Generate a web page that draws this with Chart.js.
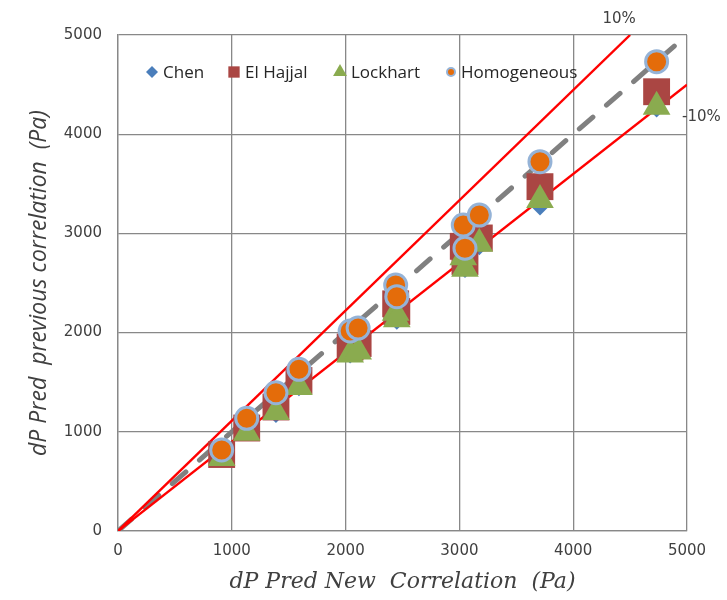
<!DOCTYPE html>
<html>
<head>
<meta charset="utf-8">
<script src="https://cdn.jsdelivr.net/npm/chart.js@4.4.0/dist/chart.umd.min.js"></script>
<style>
html, body { margin: 0; padding: 0; background: #fff; }
#wrap { width: 727px; height: 600px; }
</style>
</head>
<body>
<div id="wrap"><canvas id="parity-chart" width="727" height="600"></canvas></div>
<script>
// dP predicted by the new correlation (x) and by the previous correlations (y)
var newCorr     = [911, 1131, 1388, 1590, 2040, 2110, 2440, 2450, 3034, 3049, 3175, 3708, 4733];
var chen        = [740, 1000, 1170, 1440, 1770, 1800, 2170, 2110, 2740, 2630, 2860, 3260, 4250];
var elHajjal    = [771, 1038, 1250, 1517, 1855, 1890, 2290, 2213, 2870, 2717, 2954, 3471, 4428];
var lockhart    = [736, 991, 1200, 1452, 1780, 1810, 2200, 2134, 2760, 2644, 2896, 3337, 4277];
var homogeneous = [817, 1136, 1394, 1630, 2016, 2046, 2480, 2362, 3085, 2850, 3185, 3723, 4731];

// reference lines: +10%, -10% and the 1:1 line
var plusTenX  = [0, 4500];
var plusTenY  = [0, 5000];
var minusTenX = [0, 5000];
var minusTenY = [0, 4500];
var parityX   = [0, 5000];
var parityY   = [0, 5000];

var axisTicks = [0, 1000, 2000, 3000, 4000, 5000];

function toPoints(xs, ys) {
    return xs.map(function (x, i) { return { x: x, y: ys[i] }; });
}

var TEXT_DARK = "#404040";
var GRID = "#888888";

// legend drawn inside the plot, like the original
var inlineLegend = {
    id: "inlineLegend",
    afterDatasetsDraw: function (chart) {
        var ctx = chart.ctx;
        var area = chart.chartArea;
        var y = area.top + 37;
        var items = [
            { ds: 3, mx: 34, tx: 45 },
            { ds: 2, mx: 116, tx: 127 },
            { ds: 1, mx: 222, tx: 233 },
            { ds: 0, mx: 333, tx: 343 },
        ];
        ctx.save();
        items.forEach(function (it) {
            var ds = chart.data.datasets[it.ds];
            ctx.fillStyle = ds.backgroundColor;
            ctx.strokeStyle = ds.borderColor;
            ctx.lineWidth = ds.legendBorder;
            Chart.helpers.drawPoint(ctx, {
                pointStyle: ds.pointStyle,
                radius: ds.legendRadius,
                borderWidth: ds.legendBorder,
                rotation: 0,
            }, area.left + it.mx, y);
            ctx.fillStyle = "#262626";
            ctx.font = '17px "Open Sans"';
            ctx.textBaseline = "middle";
            ctx.textAlign = "left";
            ctx.fillText(ds.label, area.left + it.tx, y + 1);
        });

        // labels of the +/-10% lines
        var xs = chart.scales.x, ys = chart.scales.y;
        ctx.fillStyle = TEXT_DARK;
        ctx.font = '15px "DejaVu Sans"';
        ctx.textAlign = "center";
        ctx.fillText("10%", xs.getPixelForValue(plusTenX[1]) - 11, area.top - 16);
        ctx.textAlign = "left";
        ctx.fillText("-10%", area.right - 5, ys.getPixelForValue(4170));
        ctx.restore();
    },
};

function plainTick(value) {
    return String(value);
}

var ctx = document.getElementById("parity-chart").getContext("2d");

new Chart(ctx, {
    type: "scatter",
    data: {
        datasets: [
            {
                label: "Homogeneous",
                data: toPoints(newCorr, homogeneous),
                pointStyle: "circle",
                pointRadius: 11,
                pointBorderWidth: 3,
                backgroundColor: "#e46c0a",
                borderColor: "#95b3d7",
                legendRadius: 4,
                legendBorder: 2,
                order: 0,
            },
            {
                label: "Lockhart",
                data: toPoints(newCorr, lockhart),
                pointStyle: "triangle",
                pointRadius: 16,
                pointBorderWidth: 0,
                backgroundColor: "#8aab4f",
                borderColor: "#8aab4f",
                legendRadius: 8,
                legendBorder: 0,
                order: 1,
            },
            {
                label: "El Hajjal",
                data: toPoints(newCorr, elHajjal),
                pointStyle: "rect",
                pointRadius: 19,
                pointBorderWidth: 0,
                backgroundColor: "#aa4643",
                borderColor: "#aa4643",
                legendRadius: 8,
                legendBorder: 0,
                order: 2,
            },
            {
                label: "Chen",
                data: toPoints(newCorr, chen),
                pointStyle: "rectRot",
                pointRadius: 8,
                pointBorderWidth: 0,
                backgroundColor: "#4a7ebb",
                borderColor: "#4a7ebb",
                legendRadius: 6,
                legendBorder: 0,
                order: 3,
            },
            {
                label: "+10%",
                data: toPoints(plusTenX, plusTenY),
                showLine: true,
                pointRadius: 0,
                borderColor: "#ff0000",
                borderWidth: 2.4,
                order: 4,
            },
            {
                label: "-10%",
                data: toPoints(minusTenX, minusTenY),
                showLine: true,
                pointRadius: 0,
                borderColor: "#ff0000",
                borderWidth: 2.4,
                order: 5,
            },
            {
                label: "1:1",
                data: toPoints(parityX, parityY),
                showLine: true,
                pointRadius: 0,
                borderColor: "#808080",
                borderWidth: 5,
                borderDash: [18, 18],
                borderCapStyle: "round",
                order: 6,
            },
        ],
    },
    options: {
        responsive: false,
        animation: false,
        devicePixelRatio: 1,
        layout: { padding: { top: 35, right: 40, left: 0, bottom: 0 } },
        plugins: {
            legend: { display: false },
            tooltip: { enabled: false },
        },
        scales: {
            x: {
                type: "linear",
                min: axisTicks[0],
                max: axisTicks[axisTicks.length - 1],
                afterBuildTicks: function (scale) {
                    scale.ticks = axisTicks.map(function (v) { return { value: v }; });
                },
                afterFit: function (scale) { scale.height = 69; },
                grid: { color: GRID, lineWidth: 1.3, drawTicks: false },
                border: { color: GRID, width: 1.3 },
                ticks: {
                    padding: 11,
                    color: TEXT_DARK,
                    font: { family: "DejaVu Sans", size: 15 },
                    maxRotation: 0,
                    callback: plainTick,
                },
                title: {
                    display: true,
                    text: "dP Pred New  Correlation  (Pa)",
                    color: TEXT_DARK,
                    font: { family: "DejaVu Serif", size: 22, style: "italic" },
                    padding: { top: 0, bottom: 5 },
                },
            },
            y: {
                type: "linear",
                min: axisTicks[0],
                max: axisTicks[axisTicks.length - 1],
                afterBuildTicks: function (scale) {
                    scale.ticks = axisTicks.map(function (v) { return { value: v }; });
                },
                afterFit: function (scale) { scale.width = 118; },
                grid: { color: GRID, lineWidth: 1.3, drawTicks: false },
                border: { color: GRID, width: 1.3 },
                ticks: {
                    padding: 16,
                    color: TEXT_DARK,
                    font: { family: "DejaVu Sans", size: 15 },
                    callback: plainTick,
                },
                title: {
                    display: true,
                    text: "dP Pred  previous correlation  (Pa)",
                    color: TEXT_DARK,
                    font: { family: "Open Sans", size: 23, style: "italic" },
                    padding: { top: 26, bottom: 0 },
                },
            },
        },
    },
    plugins: [inlineLegend],
});
</script>
</body>
</html>
